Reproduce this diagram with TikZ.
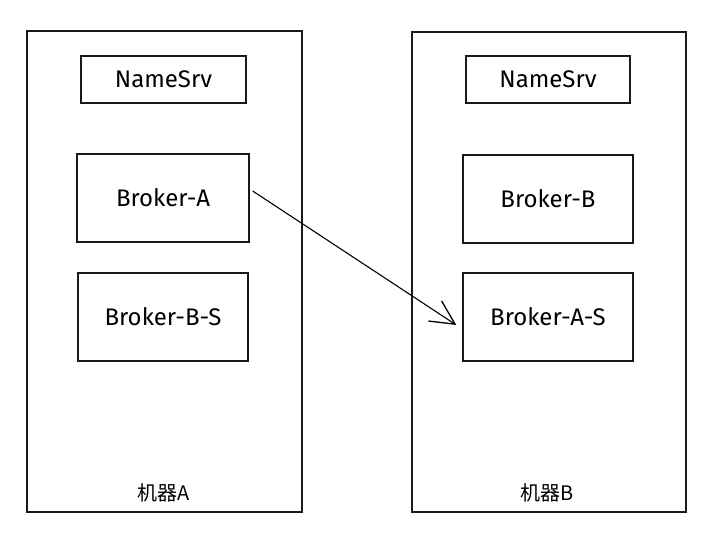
\documentclass[tikz,border=0pt]{standalone}
\usepackage{fontspec}
\setmainfont{Fira Sans}
\newfontfamily\cjk{Noto Sans CJK SC}
\usetikzlibrary{arrows.meta}
\begin{document}
\begin{tikzpicture}[x=1pt,y=-1pt,
  machine/.style={draw=black!90, line width=1.4pt},
  svc/.style={draw=black!90, line width=1.4pt, minimum width=#1, inner sep=0pt, font=\fontsize{24}{28}\selectfont},
  lbl/.style={font=\cjk\fontsize{20}{24}\selectfont, inner sep=0pt},
  link/.style={line width=1.1pt, -{Straight Barb[length=24pt,width=24pt,line width=1.3pt]}}
]
\useasboundingbox (0,0) rectangle (716,536);
\fill[white] (0,0) rectangle (716,536);
% machines
\draw[machine] (27,31) rectangle (302,512);
\draw[machine] (412,32) rectangle (686,512);
% machine A services
\node[svc=165pt, minimum height=47pt] (nsA) at (163.5,79.5) {NameSrv};
\node[svc=172pt, minimum height=88pt] (bA) at (163,198) {Broker-A};
\node[svc=170pt, minimum height=88pt] (bBS) at (163,317) {Broker-B-S};
% machine B services
\node[svc=164pt, minimum height=47pt] (nsB) at (548,79.5) {NameSrv};
\node[svc=170pt, minimum height=88pt] (bB) at (548,199) {Broker-B};
\node[svc=170pt, minimum height=88pt] (bAS) at (548,317) {Broker-A-S};
% labels
\node[lbl] (mA) at (164,493) {机器A};
\node[lbl] (mB) at (547,493) {机器B};
% replication arrow
\draw[link] ([xshift=3pt,yshift=7pt]bA.east) -- ([xshift=-6pt,yshift=-8pt]bAS.west);
\end{tikzpicture}
\end{document}
